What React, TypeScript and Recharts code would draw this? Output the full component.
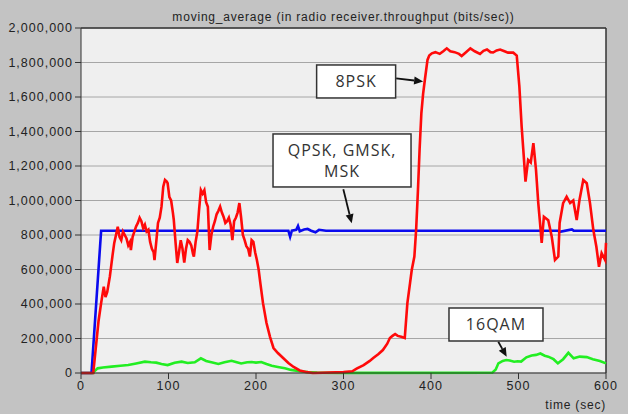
import React from "react";
import { LineChart, Line, XAxis, YAxis, CartesianGrid, ReferenceLine, ReferenceDot } from "recharts";

// time (sec) / throughput (bits/sec)
const psk8 = [
  [0, 0], [14, 0], [17, 150000], [20, 300000], [23, 405000], [26, 500000], [28, 440000], [30, 470000],
  [33, 560000], [36, 680000], [38, 754000], [40, 800000], [42, 848000], [44, 790000], [46, 770000],
  [48, 820000], [50, 800000], [52, 780000], [54, 740000], [56, 760000], [57, 713000], [59, 790000],
  [61, 820000], [63, 850000], [65, 870000], [67, 900000], [69, 880000], [71, 840000], [73, 860000],
  [75, 820000], [77, 830000], [79, 760000], [81, 720000], [83, 700000], [84, 655000], [86, 760000],
  [88, 870000], [90, 900000], [92, 964000], [94, 1080000], [96, 1119000], [98, 1110000], [99, 1100000],
  [101, 1020000], [103, 1000000], [105, 930000], [106, 890000], [108, 760000], [110, 638000],
  [112, 700000], [114, 770000], [116, 720000], [118, 640000], [120, 720000], [122, 770000],
  [124, 760000], [126, 740000], [128, 690000], [129, 675000], [131, 760000], [133, 820000],
  [135, 950000], [137, 1060000], [139, 1040000], [141, 1060000], [143, 990000], [145, 964000],
  [147, 713000], [149, 800000], [151, 848000], [153, 880000], [155, 920000], [157, 940000],
  [159, 964000], [161, 930000], [163, 905000], [165, 870000], [167, 880000], [169, 900000],
  [171, 860000], [173, 770000], [175, 880000], [177, 900000], [179, 930000], [181, 985000],
  [183, 900000], [185, 800000], [187, 770000], [189, 735000], [191, 720000], [193, 675000],
  [195, 770000], [197, 760000], [199, 700000], [201, 655000], [203, 600000], [205, 520000],
  [208, 405000], [212, 290000], [216, 210000], [220, 145000], [225, 116000], [231, 87000],
  [237, 58000], [243, 35000], [250, 15000], [258, 5000], [265, 0], [300, 5000], [310, 10000],
  [315, 25000], [323, 46000], [330, 70000], [334, 87000], [340, 110000], [345, 133000],
  [350, 170000], [353, 203000], [356, 215000], [359, 226000], [362, 215000], [366, 210000],
  [370, 203000], [373, 405000], [376, 520000], [378, 597000], [381, 675000], [383, 830000],
  [385, 1050000], [387, 1300000], [389, 1507000], [391, 1620000], [393, 1700000], [396, 1815000],
  [398, 1840000], [401, 1853000], [405, 1860000], [410, 1850000], [414, 1865000], [418, 1882000],
  [422, 1865000], [427, 1860000], [432, 1850000], [435, 1838000], [440, 1860000], [445, 1882000],
  [450, 1865000], [456, 1850000], [460, 1868000], [464, 1875000], [468, 1860000], [471, 1858000],
  [475, 1870000], [479, 1875000], [484, 1865000], [488, 1857000], [494, 1857000], [498, 1840000],
  [501, 1660000], [503.6, 1428000], [505.5, 1293000], [508, 1109000], [511, 1235000],
  [514, 1220000], [517, 1332000], [520, 1177000], [522.6, 985000], [524.6, 870000],
  [526.5, 754000], [529, 906000], [534, 885000], [538, 790000], [541.7, 655000], [545.5, 675000],
  [547, 870000], [551, 985000], [555, 1022000], [559, 985000], [562.6, 1000000], [566.5, 887000],
  [569.6, 1000000], [574, 1119000], [578, 1100000], [581.7, 985000], [585.5, 830000],
  [589, 732000], [592, 616000], [595, 695000], [599, 655000], [600, 754000],
];

const qpskGmskMsk = [
  [0, 0], [12, 0], [23, 825000], [237, 825000], [239, 790000], [241, 825000], [246, 830000],
  [248, 852000], [250, 822000], [255, 832000], [259, 835000], [263, 825000], [268, 816000],
  [272, 830000], [280, 825000], [545, 825000], [547, 818000], [561, 832000], [563, 825000], [600, 825000],
];

const qam16 = [
  [0, 0], [14, 0], [15, 8000], [19, 27000], [25, 32000], [35, 37000], [45, 42000], [54, 46000],
  [63, 55000], [73, 66000], [80, 62000], [86, 60000], [92, 52000], [99, 46000], [107, 60000],
  [115, 66000], [122, 58000], [130, 62000], [137, 85000], [143, 70000], [149, 62000], [157, 52000],
  [164, 62000], [172, 71000], [178, 62000], [183, 55000], [190, 62000], [195, 64000], [200, 60000],
  [206, 64000], [212, 52000], [218, 42000], [225, 35000], [233, 27000], [240, 18000], [248, 12000],
  [259, 5000], [270, 2000], [300, 1000], [470, 2000], [474, 20000], [477, 56000], [482, 70000],
  [486, 75000], [490, 72000], [495, 65000], [499, 68000], [503, 66000], [509, 91000], [515, 102000],
  [520, 105000], [525, 113000], [530, 100000], [534, 95000], [540, 80000], [545, 56000],
  [551, 80000], [557, 117000], [563, 85000], [570, 95000], [578, 92000], [585, 80000],
  [593, 70000], [600, 56000],
];

const xTicks = [0, 100, 200, 300, 400, 500, 600];
const yTicks = [0, 200000, 400000, 600000, 800000, 1000000, 1200000, 1400000, 1600000, 1800000, 2000000];

const titleText = "moving_average (in radio receiver.throughput (bits/sec))";
const xLabelText = "time (sec)";

// annotations: arrow tip in data units
const annotations = [
  { lines: ["8PSK"], t: 391, v: 1690000, tail: [-27, -3], box: [-67, 0], w: 79, h: 33 },
  { lines: ["QPSK, GMSK,", "MSK"], t: 309.4, v: 868000, tail: [-8.4, -34], box: [-9.7, -62.8], w: 138, h: 53 },
  { lines: ["16QAM"], t: 486.5, v: 94500, tail: [-8.4, -15], box: [-10.7, -32.2], w: 94, h: 33 },
];

const toRows = (arr: number[][]) => arr.map(([t, v]) => ({ t, v }));

const fmt = (n: number) => n.toLocaleString("en-US");

const tickFont = { fontFamily: "'Liberation Sans', Arial, sans-serif", fontSize: 12.5, fill: "#222", letterSpacing: 1 };

function makeShape(a: typeof annotations[number]) {
  return (props: any) => {
    const { cx, cy } = props;
    if (cx == null || cy == null) return <g />;
    const tx = cx + a.tail[0];
    const ty = cy + a.tail[1];
    const dx = cx - tx;
    const dy = cy - ty;
    const len = Math.sqrt(dx * dx + dy * dy);
    const ux = dx / len;
    const uy = dy / len;
    const hl = 9;
    const hw = 4;
    const bx = cx - ux * hl;
    const by = cy - uy * hl;
    const p1 = `${cx},${cy}`;
    const p2 = `${bx - uy * hw},${by + ux * hw}`;
    const p3 = `${bx + uy * hw},${by - ux * hw}`;
    const bcx = cx + a.box[0];
    const bcy = cy + a.box[1];
    const n = a.lines.length;
    return (
      <g>
        <line x1={tx} y1={ty} x2={bx} y2={by} stroke="#111" strokeWidth={1.8} />
        <polygon points={`${p1} ${p2} ${p3}`} fill="#111" />
        <rect x={bcx - a.w / 2} y={bcy - a.h / 2} width={a.w} height={a.h} fill="#fff" stroke="#333" strokeWidth={1.5} />
        {a.lines.map((s, i) => (
          <text
            key={i}
            x={bcx}
            y={bcy + (i - (n - 1) / 2) * 20.5}
            textAnchor="middle"
            dominantBaseline="central"
            fontFamily="'Open Sans', 'Noto Sans', sans-serif"
            fontSize={16}
            letterSpacing={1}
            fill="#333"
          >
            {s}
          </text>
        ))}
      </g>
    );
  };
}

export default function App() {
  return (
    <div style={{ position: "absolute", left: 0, top: 0, width: 628, height: 414, background: "#c3c3c3", overflow: "hidden" }}>
      <div
        style={{
          position: "absolute", left: 81, width: 525, top: 9, textAlign: "center",
          fontFamily: "'Liberation Sans', Arial, sans-serif", fontSize: 12, letterSpacing: 0.8, color: "#222", lineHeight: "16px",
        }}
      >
        {titleText}
      </div>
      <div
        style={{
          position: "absolute", right: 22, top: 397,
          fontFamily: "'Liberation Sans', Arial, sans-serif", fontSize: 12, letterSpacing: 0.8, color: "#222", lineHeight: "16px",
        }}
      >
        {xLabelText}
      </div>
      <div style={{ position: "absolute", left: 0, top: 0 }}>
        <LineChart width={628} height={414} margin={{ top: 28, right: 22, bottom: 21, left: 6 }}>
          <CartesianGrid vertical={false} stroke="#a6a6a6" fill="#efefef" horizontalValues={yTicks} />
          <XAxis
            dataKey="t"
            type="number"
            domain={[0, 600]}
            ticks={xTicks}
            interval={0}
            height={20}
            tickSize={6}
            stroke="#333"
            tick={tickFont}
            allowDuplicatedCategory={false}
          />
          <YAxis
            dataKey="v"
            type="number"
            domain={[0, 2000000]}
            ticks={yTicks}
            interval={0}
            width={75}
            tickSize={6}
            stroke="#333"
            tick={tickFont}
            tickFormatter={fmt}
          />
          <ReferenceLine y={2000000} stroke="#333" strokeWidth={1.5} />
          <ReferenceLine x={600} stroke="#333" strokeWidth={1.5} />
          <Line data={toRows(qam16)} dataKey="v" stroke="#22ee22" strokeWidth={2.6} dot={false} isAnimationActive={false} type="linear" />
          <Line data={toRows(qpskGmskMsk)} dataKey="v" stroke="#0a0aee" strokeWidth={2.6} dot={false} isAnimationActive={false} type="linear" />
          <Line data={toRows(psk8)} dataKey="v" stroke="#ff0a0a" strokeWidth={2.6} dot={false} isAnimationActive={false} type="linear" />
          {annotations.map((a, i) => (
            <ReferenceDot key={i} x={a.t} y={a.v} r={0} ifOverflow="visible" shape={makeShape(a)} />
          ))}
        </LineChart>
      </div>
    </div>
  );
}
